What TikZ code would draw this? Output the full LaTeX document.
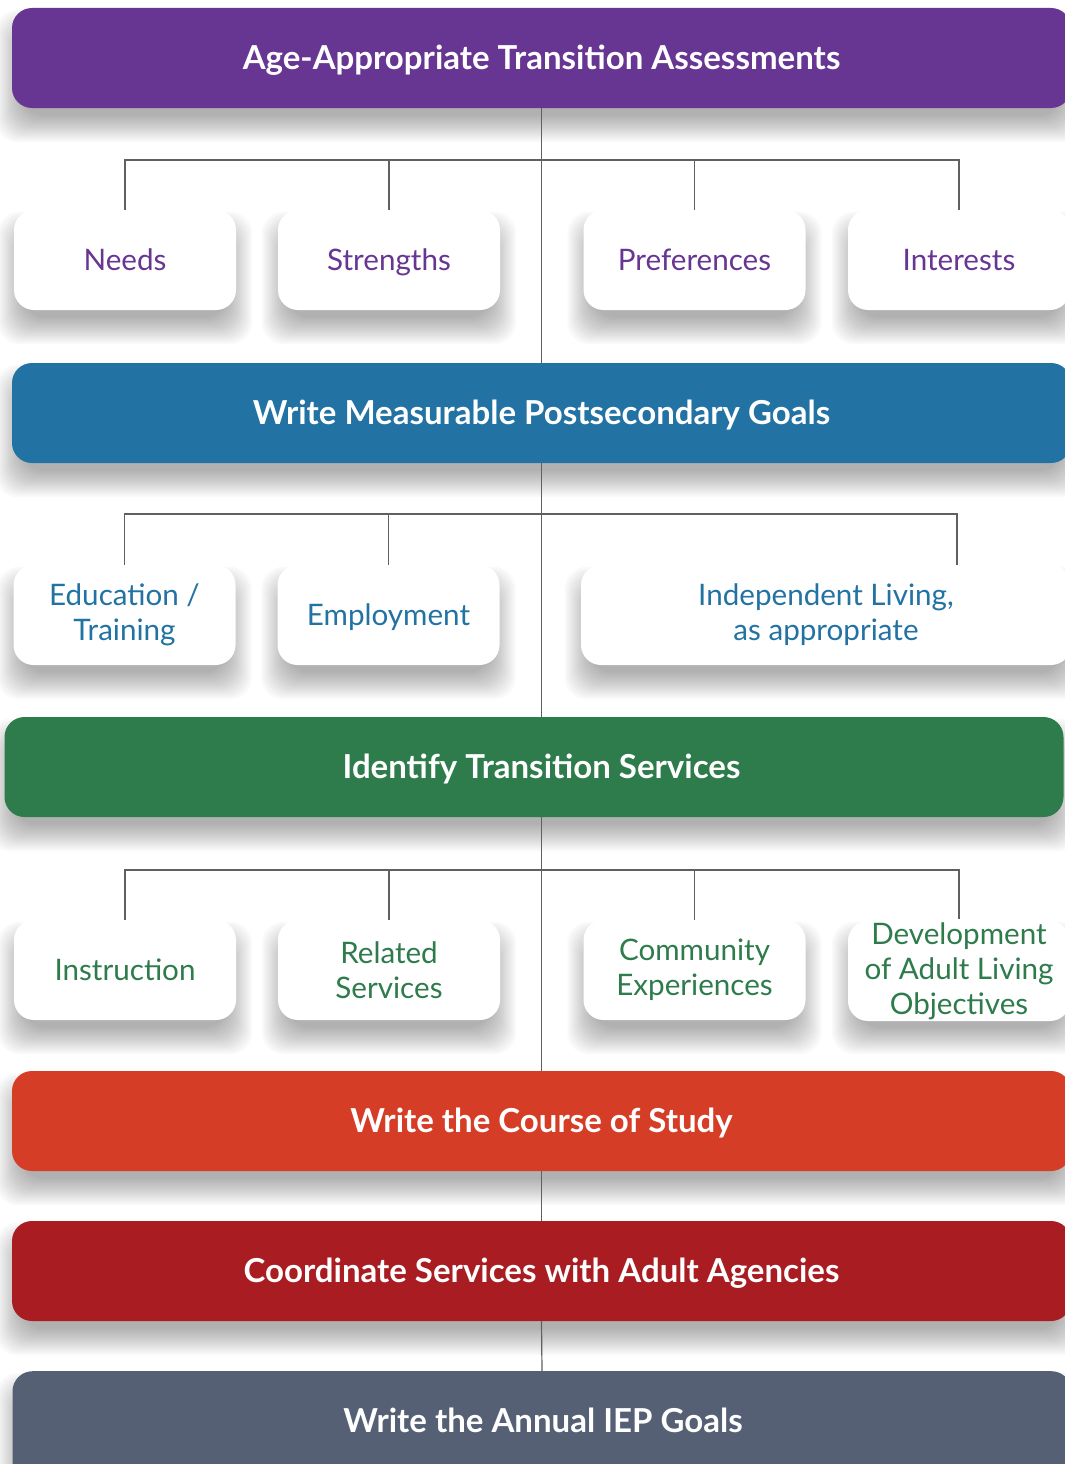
\documentclass[tikz,border=0pt]{standalone}
\usepackage{fontspec}
\setmainfont{Lato}
\definecolor{cPurple}{HTML}{673592}
\definecolor{cBlue}{HTML}{2272A3}
\definecolor{cGreen}{HTML}{2E7B4C}
\definecolor{cOrange}{HTML}{D63D27}
\definecolor{cRed}{HTML}{A91D22}
\definecolor{cSlate}{HTML}{566075}
\definecolor{cLine}{HTML}{606060}
\pgfdeclarelayer{bglayer}
\pgfdeclarelayer{shadowlayer}
\pgfsetlayers{bglayer,shadowlayer,main}
\newcommand{\mkshadow}[1]{%
  \begin{pgfonlayer}{shadowlayer}
  \foreach \g in {-10,-8,...,16} {
    \fill[black, fill opacity=0.022, rounded corners=22pt]
      ([xshift=-\g pt, yshift=\g pt-18pt]#1.north west) rectangle ([xshift=\g pt, yshift=-\g pt-18pt]#1.south east);
  }
  \end{pgfonlayer}}
\begin{document}
\begin{tikzpicture}[x=1pt,y=-1pt,
  bar/.style={rounded corners=20pt, minimum width=1059pt, minimum height=100pt, inner sep=0pt,
    text=white, font=\fontsize{33}{38}\selectfont\bfseries, text height=28pt, text depth=5pt},
  bartext/.style={text=white, font=\fontsize{33}{38}\selectfont\bfseries, text height=28pt, text depth=5pt, inner sep=0pt},
  item/.style={rounded corners=20pt, fill=white, minimum width=222pt, minimum height=100pt, inner sep=0pt,
    align=center, font=\fontsize{29.6}{35}\selectfont},
  one/.style={text height=24pt, text depth=4pt},
  conn/.style={draw=cLine, line width=1.2pt}]
\path[use as bounding box] (0,0) rectangle (1065,1464);
\begin{pgfonlayer}{bglayer}
\fill[white] (0,0) rectangle (1065,1464);
\end{pgfonlayer}
% bars
\node[bar, fill=cPurple] (assess) at (541.5,58) {Age-Appropriate Transition Assessments};
\node[bar, fill=cBlue] (goals) at (541.5,413) {Write Measurable Postsecondary Goals};
\node[bar, fill=cGreen] (services) at (534,767) {};
\node[bartext] (servicestxt) at (541.5,767) {Identify Transition Services};
\node[bar, fill=cOrange] (course) at (541.5,1121) {Write the Course of Study};
\node[bar, fill=cRed] (coord) at (541.5,1271) {Coordinate Services with Adult Agencies};
\node[bar, fill=cSlate, minimum height=140pt, anchor=north] (annual) at (542,1371) {};
\node[bartext] (annualtxt) at (543,1421) {Write the Annual IEP Goals};
% row 1
\node[item, one, text=cPurple] (needs) at (125,260) {Needs};
\node[item, one, text=cPurple] (strengths) at (389,260) {Strengths};
\node[item, one, text=cPurple] (prefs) at (694.5,260) {Preferences};
\node[item, one, text=cPurple] (interests) at (959,260) {Interests};
% row 2
\node[item, text=cBlue] (edu) at (124.5,615) {Education /\\Training};
\node[item, one, text=cBlue] (employ) at (388.5,615) {Employment};
\node[item, text=cBlue, minimum width=490pt] (indep) at (826,615) {Independent Living,\\as appropriate};
% row 3
\node[item, one, text=cGreen] (instr) at (125,970) {Instruction};
\node[item, text=cGreen] (related) at (389,970) {Related\\Services};
\node[item, text=cGreen] (commun) at (694.5,970) {Community\\Experiences};
\node[item, text=cGreen, minimum height=100pt] (devel) at (959,971) {Development\\of Adult Living\\Objectives};
% shadows
\foreach \n in {assess,goals,services,course,coord,annual,needs,strengths,prefs,interests,edu,employ,indep,instr,related,commun}{\mkshadow{\n}}
\begin{pgfonlayer}{shadowlayer}
\foreach \g in {-10,-8,...,16} {
  \fill[black, fill opacity=0.022, rounded corners=22pt]
    ([xshift=-\g pt, yshift=\g pt-18pt]848,920) rectangle ([xshift=\g pt, yshift=-\g pt-18pt]1070,1020);
}
\end{pgfonlayer}
% connectors
\coordinate (h1) at (541.5,160);
\coordinate (h2) at (541.5,514);
\coordinate (h3) at (541.5,870);
\coordinate (intop) at (957,565);
\coordinate (devtop) at (959,919);
\draw[conn] (assess.south) -- (goals.north);
\draw[conn] (goals.south) -- (goals.south |- services.north);
\draw[conn] (goals.south |- services.south) -- (course.north);
\draw[conn] (course.south) -- (coord.north);
\draw[conn] (coord.south) -- (annual.north);
\draw[conn] (needs.north) -- (needs.north |- h1) -- (interests.north |- h1) -- (interests.north);
\draw[conn] (strengths.north) -- (strengths.north |- h1);
\draw[conn] (prefs.north) -- (prefs.north |- h1);
\draw[conn] (edu.north) -- (edu.north |- h2) -- (intop |- h2) -- (intop);
\draw[conn] (employ.north) -- (employ.north |- h2);
\draw[conn] (instr.north) -- (instr.north |- h3) -- (devtop |- h3) -- (devtop);
\draw[conn] (related.north) -- (related.north |- h3);
\draw[conn] (commun.north) -- (commun.north |- h3);
\end{tikzpicture}
\end{document}
